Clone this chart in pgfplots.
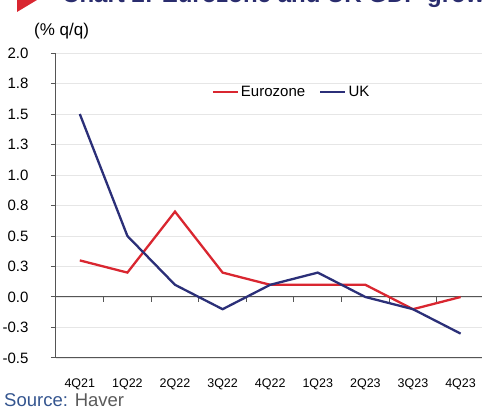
\documentclass[border=0pt]{standalone}
\usepackage{pgfplots}
\pgfplotsset{compat=1.18}
\usepackage{fontspec}
\setmainfont{Liberation Sans}

\definecolor{ezred}{HTML}{D92630}
\definecolor{uknavy}{HTML}{2B2F78}
\definecolor{titlenavy}{HTML}{2A2D6E}
\definecolor{srcblue}{HTML}{34558F}
\definecolor{srcgray}{HTML}{5A5A5A}
\definecolor{axisgray}{HTML}{555555}
\definecolor{gridgray}{HTML}{E6E6E6}

\begin{document}
\begin{tikzpicture}
\useasboundingbox (0pt,0pt) rectangle (483pt,413pt);
\clip (0pt,0pt) rectangle (483pt,413pt);

% title strip, mostly cut off at the top as in the reference
\fill[ezred] (17pt,413pt) -- (37pt,413pt) -- (17pt,401pt) -- cycle;
\node[anchor=base west, inner sep=0pt, text=titlenavy,
      font=\bfseries\fontsize{24}{26}\selectfont] at (62pt,410.5pt)
      {Chart 2: Eurozone and UK GDP growth};

\node[anchor=base west, inner sep=0pt, font=\fontsize{17}{19}\selectfont]
      at (34pt,377pt) {(\% q/q)};

\begin{axis}[
    at={(56pt,55pt)}, anchor=south west,
    width=426pt, height=305pt, scale only axis,
    xmin=-0.5, xmax=8.45,
    ymin=-0.5, ymax=2.0,
    axis lines*=left,
    axis line style={axisgray, line width=1pt},
    xtick={0,...,8},
    xticklabels={4Q21,1Q22,2Q22,3Q22,4Q22,1Q23,2Q23,3Q23,4Q23},
    ytick={-0.5,-0.25,0,0.25,0.5,0.75,1.0,1.25,1.5,1.75,2.0},
    yticklabels={-0.5,-0.3,0.0,0.3,0.5,0.8,1.0,1.3,1.5,1.8,2.0},
    x tick style={draw=none},
    y tick style={axisgray, line width=1pt},
    tick align=outside,
    major tick length=5pt,
    ymajorgrids,
    major grid style={gridgray, line width=0.8pt},
    xticklabel style={font=\fontsize{12.5}{14}\selectfont, yshift=-12pt},
    yticklabel style={font=\fontsize{15}{17}\selectfont, xshift=-19pt},
    /pgf/number format/assume math mode=true,
    legend style={at={(0.365,0.872)}, anchor=west, draw=none, fill=none,
                  font=\fontsize{15}{17}\selectfont,
                  legend columns=2, inner sep=0pt,
                  /tikz/every even column/.append style={column sep=12pt}},
    legend cell align=left,
    legend image code/.code={\draw[#1] (0pt,0pt) -- (25pt,0pt);},
    clip=false,
]
\draw[axisgray, line width=1pt] (axis cs:-0.5,0) -- (axis cs:8.45,0);
\pgfplotsinvokeforeach{0.5,1.5,2.5,3.5,4.5,5.5,6.5,7.5}{
  \draw[axisgray, line width=1pt] (axis cs:#1,0) -- ++(0pt,-5pt);
}

\addplot[ezred, line width=2.3pt] coordinates {
  (0,0.3) (1,0.2) (2,0.7) (3,0.2) (4,0.1) (5,0.1) (6,0.1) (7,-0.1) (8,0.0)
};
\addlegendentry{Eurozone}
\addplot[uknavy, line width=2.3pt] coordinates {
  (0,1.5) (1,0.5) (2,0.1) (3,-0.1) (4,0.1) (5,0.2) (6,0.0) (7,-0.1) (8,-0.3)
};
\addlegendentry{UK}
\end{axis}

\node[anchor=base west, inner sep=0pt, font=\fontsize{18.5}{20}\selectfont]
      at (4pt,6pt) {\textcolor{srcblue}{Source:} \textcolor{srcgray}{Haver}};
\end{tikzpicture}
\end{document}
